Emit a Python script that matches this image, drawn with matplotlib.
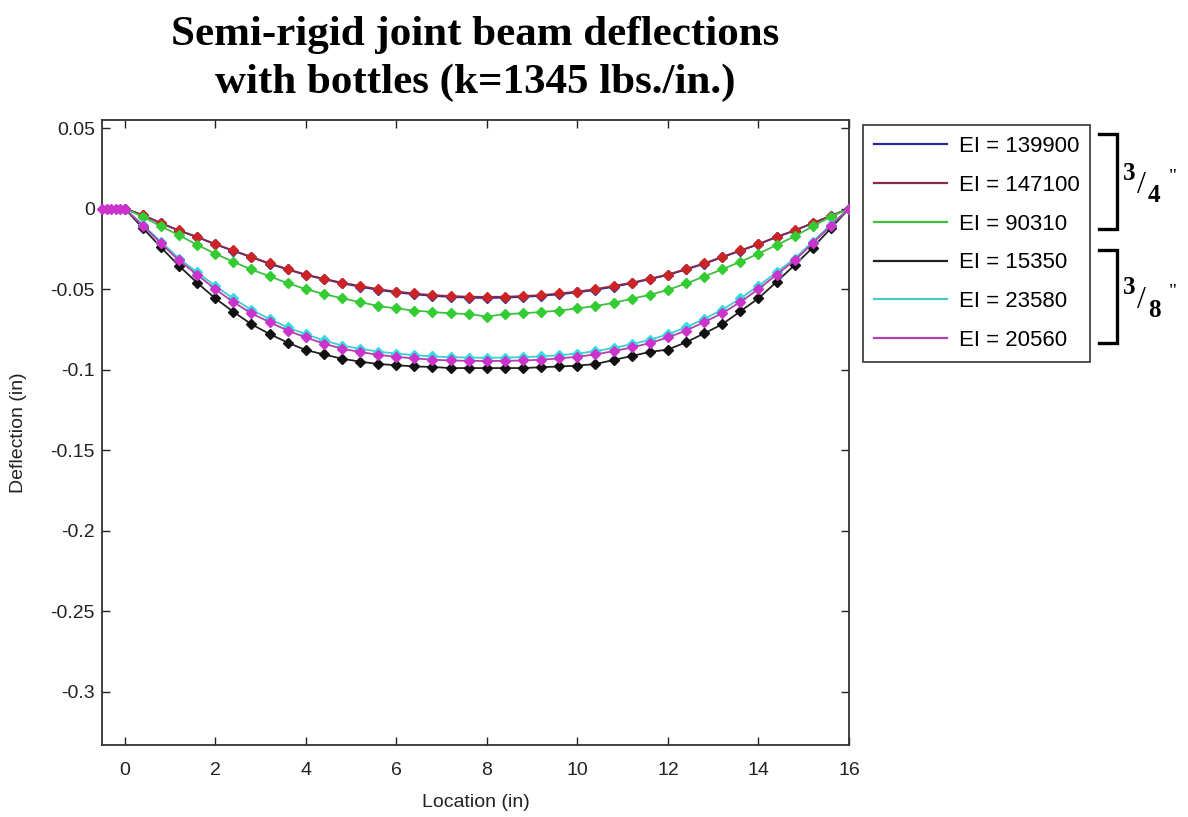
import matplotlib
matplotlib.use("Agg")
import matplotlib.pyplot as plt
from matplotlib.lines import Line2D

# Beam deflection data (location in inches)
location = [0.0, 0.4, 0.8, 1.2, 1.6, 2.0, 2.4, 2.8, 3.2, 3.6, 4.0, 4.4, 4.8, 5.2,
            5.6, 6.0, 6.4, 6.8, 7.2, 7.6, 8.0, 8.4, 8.8, 9.2, 9.6, 10.0, 10.4,
            10.8, 11.2, 11.6, 12.0, 12.4, 12.8, 13.2, 13.6, 14.0, 14.4, 14.8,
            15.2, 15.6, 16.0]

ei_139900 = [0, -0.004, -0.009, -0.0137, -0.0177, -0.0222, -0.0262, -0.0302, -0.0343,
             -0.0378, -0.0412, -0.0438, -0.0464, -0.0485, -0.0505, -0.052, -0.0532,
             -0.0542, -0.0548, -0.0553, -0.0555, -0.0553, -0.0548, -0.0542, -0.0532,
             -0.052, -0.0505, -0.0485, -0.0464, -0.0438, -0.0412, -0.0378, -0.0343,
             -0.0302, -0.0262, -0.0222, -0.0177, -0.0137, -0.009, -0.0045, 0]
ei_147100 = [0, -0.004, -0.009, -0.0135, -0.0175, -0.022, -0.026, -0.030, -0.034,
             -0.0375, -0.041, -0.0435, -0.046, -0.048, -0.050, -0.0515, -0.0527,
             -0.0537, -0.0543, -0.0547, -0.0548, -0.0547, -0.0543, -0.0537, -0.0527,
             -0.0515, -0.050, -0.048, -0.046, -0.0435, -0.041, -0.0375, -0.034,
             -0.030, -0.026, -0.022, -0.0175, -0.0135, -0.009, -0.0045, 0]
ei_90310 = [0, -0.005, -0.011, -0.0165, -0.0225, -0.028, -0.033, -0.0378, -0.042,
            -0.0463, -0.050, -0.053, -0.0557, -0.058, -0.0605, -0.062, -0.0633,
            -0.0642, -0.065, -0.0655, -0.067, -0.0655, -0.065, -0.0642, -0.0633,
            -0.062, -0.0605, -0.0585, -0.056, -0.0535, -0.0505, -0.0465, -0.0422,
            -0.0377, -0.033, -0.028, -0.0226, -0.0172, -0.011, -0.005, 0]
ei_15350 = [0, -0.012, -0.024, -0.0355, -0.046, -0.0557, -0.064, -0.0718, -0.0778,
            -0.0832, -0.0878, -0.0905, -0.0932, -0.095, -0.0965, -0.0972, -0.098,
            -0.0983, -0.099, -0.099, -0.099, -0.099, -0.099, -0.0985, -0.098,
            -0.0975, -0.0965, -0.094, -0.0915, -0.089, -0.0875, -0.083, -0.0775,
            -0.0718, -0.0638, -0.0557, -0.0455, -0.035, -0.0242, -0.0122, 0]
ei_23580 = [0, -0.0100, -0.0205, -0.031, -0.0395, -0.048, -0.0558, -0.0628, -0.0685,
            -0.0737, -0.078, -0.0818, -0.085, -0.087, -0.0888, -0.090, -0.091,
            -0.0918, -0.0922, -0.0925, -0.0926, -0.0925, -0.0922, -0.0918, -0.091,
            -0.090, -0.0885, -0.0865, -0.0842, -0.0815, -0.078, -0.0737, -0.0685,
            -0.0628, -0.0558, -0.048, -0.0395, -0.031, -0.0205, -0.0100, 0]
ei_20560 = [0, -0.0105, -0.0215, -0.0322, -0.041, -0.050, -0.058, -0.065, -0.0705,
            -0.0757, -0.080, -0.0838, -0.087, -0.089, -0.0908, -0.092, -0.093,
            -0.0938, -0.0943, -0.0945, -0.0946, -0.0945, -0.0943, -0.0938, -0.093,
            -0.092, -0.0905, -0.0885, -0.0862, -0.0835, -0.080, -0.0757, -0.0705,
            -0.065, -0.058, -0.050, -0.041, -0.0322, -0.0215, -0.0105, 0]

# support region left of x=0 (flat)
support_x = [-0.5, -0.4, -0.3, -0.2, -0.1, 0.0]
support_y = [0, 0, 0, 0, 0, 0]

labels = ["EI = 139900", "EI = 147100", "EI = 90310",
          "EI = 15350", "EI = 23580", "EI = 20560"]
series = [ei_139900, ei_147100, ei_90310, ei_15350, ei_23580, ei_20560]
colors = ["#2a2a9c", "#cc2424", "#33cc33", "#111111", "#33dede", "#cc33cc"]
line_colors = ["#2a2a9c", "#8a2a4a", "#3fbf3f", "#222222", "#44cccc", "#b040b0"]

plt.rcParams["font.family"] = ["Liberation Sans", "DejaVu Sans"]

fig = plt.figure(figsize=(11.88, 8.17), dpi=100)
ax = fig.add_axes([102 / 1188, 72 / 817, 747 / 1188, 625 / 817])

for ys, c, lc in zip(series, colors, line_colors):
    ax.plot(location, ys, color=lc, lw=1.3, marker="D", markersize=5.2,
            markerfacecolor=c, markeredgecolor=c, zorder=3)
ax.plot(support_x, support_y, color=colors[-1], lw=1.3, marker="D", markersize=5.2,
        markerfacecolor=colors[-1], markeredgecolor=colors[-1], zorder=3, clip_on=False)

ax.set_xlim(-0.5, 16)
ax.set_ylim(-0.333, 0.055)
ax.set_xticks([0, 2, 4, 6, 8, 10, 12, 14, 16])
yt = [0.05, 0, -0.05, -0.1, -0.15, -0.2, -0.25, -0.3]
ax.set_yticks(yt)
ax.set_yticklabels(["0.05", "0", "-0.05", "-0.1", "-0.15", "-0.2", "-0.25", "-0.3"])
ax.tick_params(direction="in", length=6, width=1, top=True, right=True,
               labelsize=14, colors="#222222")
ax.tick_params(axis="x", pad=12)
ax.tick_params(axis="y", pad=5)
for s in ax.spines.values():
    s.set_linewidth(1.3)
    s.set_color("#333333")

ax.set_xlabel("Location (in)", fontsize=14, color="#222222")
ax.set_ylabel("Deflection (in)", fontsize=14, color="#222222")
ax.xaxis.set_label_coords(0.5, -0.078)
ax.yaxis.set_label_coords(-0.1, 0.5)

handles = [Line2D([0], [0], color=lc, lw=1.6) for lc in line_colors]
leg = fig.legend(handles, labels, loc="upper left",
                 bbox_to_anchor=(863 / 1188, 1 - 125 / 817), fontsize=16,
                 handlelength=3.3, handletextpad=0.5, labelspacing=0.8,
                 borderpad=0.5, fancybox=False, framealpha=1, borderaxespad=0)
leg.get_frame().set_edgecolor("#333333")
leg.get_frame().set_linewidth(1.2)

fig.text(475 / 1188, 1 - 59 / 817,
         "Semi-rigid joint beam deflections\nwith bottles (k=1345 lbs./in.)",
         ha="center", va="center", fontsize=31, fontweight="bold",
         family="Liberation Serif", linespacing=1.32)

# overlay in pixel coordinates for the size brackets
ov = fig.add_axes([0, 0, 1, 1], zorder=5)
ov.set_xlim(0, 1188)
ov.set_ylim(817, 0)
ov.axis("off")
for top, bot in [(134, 229), (250, 343)]:
    ov.plot([1099, 1117, 1117, 1099], [top, top, bot, bot], color="black", lw=2.4,
            solid_joinstyle="miter")

for num, den, yc in [("3", "4", 183), ("3", "8", 298)]:
    ov.text(1129, yc - 10, num, fontsize=18, fontweight="bold", family="Liberation Serif",
            ha="center", va="center")
    ov.text(1141, yc + 2, "/", fontsize=23, family="Liberation Serif",
            ha="center", va="center")
    ov.text(1154, yc + 12, den, fontsize=18, fontweight="bold", family="Liberation Serif",
            ha="center", va="center")
    ov.text(1173, yc - 6, '"', fontsize=14, family="Liberation Serif",
            ha="center", va="center")

fig.savefig("out.png", dpi=100, facecolor="white")
